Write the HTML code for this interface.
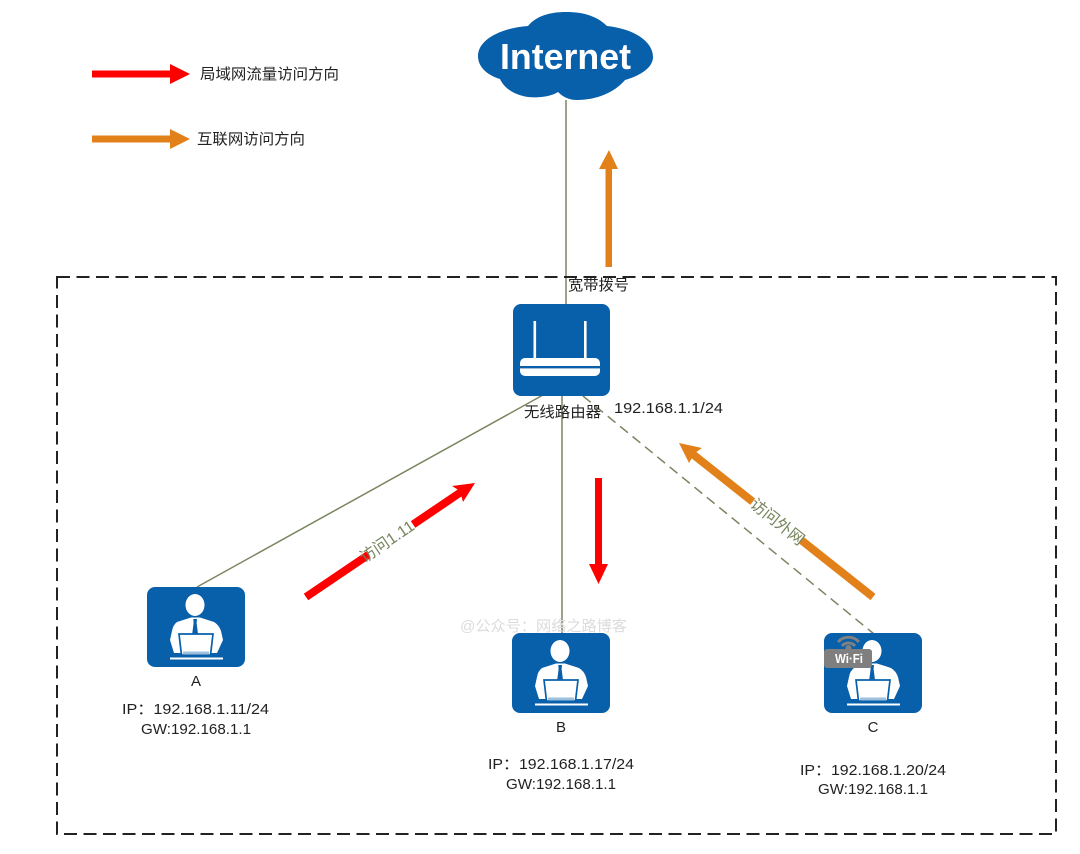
<!DOCTYPE html>
<html><head><meta charset="utf-8">
<style>
html,body{margin:0;padding:0;background:#fff;width:1080px;height:854px;overflow:hidden}
svg{display:block}
text{font-family:"Liberation Sans","Noto Sans CJK SC",sans-serif;font-size:15px;fill:#222}
.g{fill:#76845c}
</style></head><body>
<svg width="1080" height="854" viewBox="0 0 1080 854" xmlns="http://www.w3.org/2000/svg">
<defs>
<g id="person">
<rect x="0" y="0" width="98" height="80" rx="8" fill="#0860ab"/>
<ellipse cx="48" cy="18" rx="9.5" ry="11" fill="#fff"/>
<path d="M30 35 L44 30.5 H53 L67 35 Q72 38 74 44 L76 53 L70 66 H27 L23 53 L25 44 Q26 38 30 35Z" fill="#fff"/>
<path d="M46.3 32 H50 L49.6 36 L51 47 L48 50 L45.2 47 L46.6 36Z" fill="#0860ab"/>
<path d="M32 47 H66 L63.5 68 H34.5Z" fill="#fff" stroke="#0860ab" stroke-width="1.7"/>
<rect x="36" y="64.5" width="26" height="3" fill="#9cc0de"/>
<rect x="23" y="70.5" width="53" height="2" fill="#fff"/>
</g>
</defs>
<rect width="1080" height="854" fill="#fff"/>

<!-- connectors -->
<line x1="566" y1="100" x2="566" y2="304" stroke="#7a8660" stroke-width="1.5"/>
<line x1="543" y1="395" x2="197" y2="587" stroke="#7a8660" stroke-width="1.5"/>
<line x1="562" y1="396" x2="562" y2="633" stroke="#7a8660" stroke-width="1.5"/>
<line x1="583" y1="396" x2="874" y2="634" stroke="#7a8660" stroke-width="1.5" stroke-dasharray="10 6"/>

<!-- dashed boundary -->
<rect x="57" y="277" width="999" height="557" fill="none" stroke="#222" stroke-width="2" stroke-dasharray="13 6.5"/>

<!-- cloud -->
<path d="M528 26 C536 16 550 12 566 12 C585 12 598 17 607 26 C635 29 653 42 653 57 C653 67 642 75 625 80 C615 92 597 100 577 100 C569 100 563 97 558 92 C550 97 538 98 528 97 C514 95 504 88 500 79 C487 75 478 67 478 56 C478 40 500 28 528 26Z" fill="#0860ab"/>
<text x="500" y="69" textLength="131" lengthAdjust="spacingAndGlyphs" style="font-size:36px;font-weight:bold;fill:#fff">Internet</text>

<!-- router -->
<rect x="513" y="304" width="97" height="92" rx="8" fill="#0860ab"/>
<rect x="533.5" y="321" width="2.6" height="38" fill="#fff"/>
<rect x="584" y="321" width="2.6" height="38" fill="#fff"/>
<rect x="520" y="358" width="80" height="18" rx="5" fill="#fff"/>
<rect x="520" y="366" width="80" height="2.4" fill="#0860ab"/>

<!-- people -->
<use href="#person" x="147" y="587"/>
<use href="#person" x="512" y="633"/>
<use href="#person" x="824" y="633"/>

<!-- wifi badge -->
<path d="M838 642 A14 14 0 0 1 859 642" fill="none" stroke="#808080" stroke-width="3"/>
<path d="M842 646 A8.5 8.5 0 0 1 855 646" fill="none" stroke="#808080" stroke-width="3"/>
<circle cx="848.5" cy="648" r="3" fill="#808080"/>
<rect x="824" y="649" width="48" height="19" rx="3" fill="#7f7f7f"/>
<text x="835" y="663" textLength="28" lengthAdjust="spacingAndGlyphs" style="font-size:13px;font-weight:bold;fill:#fff">Wi·Fi</text>

<!-- legend arrows -->
<path d="M92 70.5 H170 V64 L190 74 L170 84 V77.5 H92Z" fill="#ff0000"/>
<path d="M92 135.5 H170 V129 L190 139 L170 149 V142.5 H92Z" fill="#e28119"/>
<text x="200" y="79" textLength="139" lengthAdjust="spacingAndGlyphs">局域网流量访问方向</text>
<text x="197" y="144" textLength="108" lengthAdjust="spacingAndGlyphs">互联网访问方向</text>

<!-- vertical arrows -->
<path d="M605.5 267 V169 H599 L609 150 L618 169 H612 V267Z" fill="#e28119"/>
<path d="M595 478 H602 V564 H608 L598.5 584 L589 564 H595Z" fill="#ff0000"/>

<!-- diagonal red arrow -->
<line x1="306" y1="597" x2="464" y2="490" stroke="#ff0000" stroke-width="8"/>
<path d="M475 483 L452 486 L460 491 L463 502Z" fill="#ff0000"/>
<rect x="-27" y="-10" width="54" height="20" fill="#fff" transform="translate(391 540) rotate(-34)"/>
<text class="g" transform="translate(390 546) rotate(-34)" text-anchor="middle" style="font-size:16px">访问1.11</text>

<!-- diagonal orange arrow -->
<line x1="873" y1="597" x2="690" y2="452" stroke="#e28119" stroke-width="8"/>
<path d="M679 443 L702 448 L695 453 L689 463Z" fill="#e28119"/>
<rect x="-31" y="-10" width="62" height="20" fill="#fff" transform="translate(777 521) rotate(38.5)"/>
<text class="g" transform="translate(774 526) rotate(38.5)" text-anchor="middle" style="font-size:16px">访问外网</text>

<!-- labels -->
<text x="568" y="290" textLength="61" lengthAdjust="spacingAndGlyphs">宽带拨号</text>
<text x="524" y="417" textLength="77" lengthAdjust="spacingAndGlyphs">无线路由器</text>
<text x="614" y="413" textLength="109" lengthAdjust="spacingAndGlyphs">192.168.1.1/24</text>

<text x="460" y="631" textLength="167" lengthAdjust="spacingAndGlyphs" style="fill:#dcdcdc">@公众号：网络之路博客</text>

<text x="196" y="686" text-anchor="middle">A</text>
<text x="122" y="714" textLength="147" lengthAdjust="spacingAndGlyphs">IP：192.168.1.11/24</text>
<text x="141" y="734" textLength="110" lengthAdjust="spacingAndGlyphs">GW:192.168.1.1</text>

<text x="561" y="732" text-anchor="middle">B</text>
<text x="488" y="769" textLength="146" lengthAdjust="spacingAndGlyphs">IP：192.168.1.17/24</text>
<text x="506" y="789" textLength="110" lengthAdjust="spacingAndGlyphs">GW:192.168.1.1</text>

<text x="873" y="732" text-anchor="middle">C</text>
<text x="800" y="775" textLength="146" lengthAdjust="spacingAndGlyphs">IP：192.168.1.20/24</text>
<text x="818" y="794" textLength="110" lengthAdjust="spacingAndGlyphs">GW:192.168.1.1</text>
</svg>
</body></html>
